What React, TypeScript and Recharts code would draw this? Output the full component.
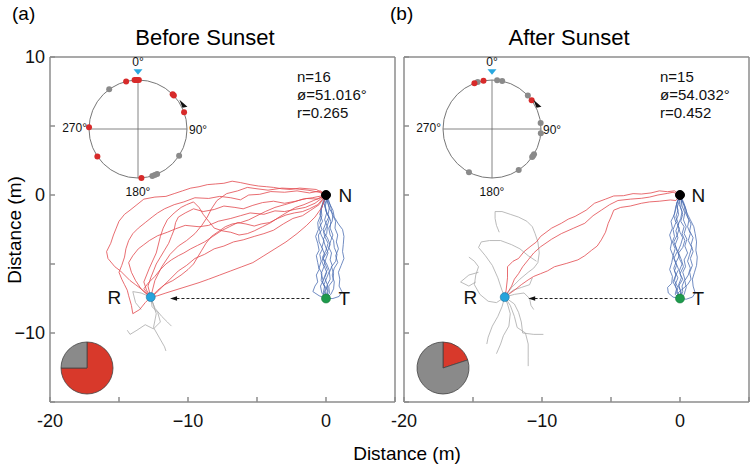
import React from 'react';
import { ScatterChart, Scatter, XAxis, YAxis, ReferenceLine, ReferenceDot, PieChart, Pie, Cell } from 'recharts';

const FONT = '"Liberation Sans", Arial, Helvetica, sans-serif';
const RED = '#e2474c';
const BLUE = '#4d6fb3';
const GRAY_TRACK = '#a9a9a9';
const AXIS = '#8c8c8c';

type Pair = [number, number];

// ---------- axes ----------
const xTicks = [-20, -15, -10, -5, 0, 5];
const xTickLabels = ['-20', '', '−10', '', '0', ''];
const yTicks = [-15, -10, -5, 0, 5, 10];
const yTickLabelsA = ['', '−10', '', '0', '', '10'];
const yTickLabelsB = ['', '', '', '', '', ''];

// ---------- key points ----------
const nestPoint: Pair = [0, 0];
const startPoint: Pair = [0, -7.5];
const releasePoint: Pair = [-12.7, -7.4];
const arrowA: Pair[] = [[-1.2, -7.5], [-11.0, -7.5]];
const arrowB: Pair[] = [[-0.9, -7.5], [-10.7, -7.5]];

// ---------- panel (a) tracks : Before Sunset ----------
const redA1: Pair[] = [[0,0],[-0.7,0.4],[-1.3,0.45],[-1.9,0.5],[-2.6,0.4],[-3.2,0.45],[-3.8,0.55],[-4.3,0.6],[-4.9,0.65],[-5.5,0.75],[-6.2,0.9],[-6.8,1.0],[-7.4,0.85],[-8.0,0.8],[-8.6,0.75],[-9.2,0.6],[-9.8,0.5],[-10.4,0.3],[-11.0,0.1],[-11.6,-0.1],[-12.4,-0.15],[-13.2,-0.3],[-13.7,-0.7],[-14.2,-1.1],[-14.6,-1.4],[-15.0,-1.9],[-15.2,-2.4],[-15.4,-2.9],[-15.6,-3.5],[-15.9,-4.1],[-15.8,-4.6],[-15.3,-5.2],[-14.9,-5.5],[-14.6,-5.8],[-14.2,-6.2],[-13.8,-6.5],[-13.4,-6.8],[-13.1,-7.1],[-12.7,-7.4]];
const redA2: Pair[] = [[0,0],[-0.4,0.3],[-1.2,0.15],[-2.1,0.3],[-3.0,0.2],[-4.0,0.25],[-4.8,0.05],[-5.6,0.0],[-6.2,-0.35],[-6.9,-0.2],[-7.7,-0.1],[-8.5,-0.25],[-9.5,-0.2],[-10.3,-0.5],[-11.0,-0.7],[-11.7,-1.0],[-12.2,-1.3],[-12.6,-1.6],[-13.1,-2.0],[-13.6,-2.4],[-14.0,-2.8],[-14.3,-3.3],[-14.5,-3.9],[-14.6,-4.5],[-14.8,-5.1],[-15.0,-5.6],[-14.8,-6.1],[-14.6,-6.5],[-14.4,-6.9],[-14.3,-7.3],[-14.1,-8.0],[-14.0,-8.6],[-13.5,-8.3],[-13.1,-7.8],[-12.7,-7.4]];
const redA3: Pair[] = [[0,0],[-0.6,-0.3],[-1.4,-0.25],[-2.2,-0.45],[-3.0,-0.6],[-3.8,-0.45],[-4.6,-0.55],[-5.3,-0.75],[-6.0,-1.0],[-6.6,-0.9],[-7.4,-0.8],[-8.1,-1.05],[-8.9,-1.2],[-9.6,-1.0],[-10.2,-1.3],[-10.7,-1.6],[-10.9,-2.0],[-11.0,-2.5],[-11.2,-3.0],[-11.4,-3.5],[-11.7,-4.0],[-12.0,-4.5],[-12.3,-5.0],[-12.5,-5.5],[-12.7,-6.0],[-12.9,-6.6],[-12.7,-7.4]];
const redA4: Pair[] = [[0,0],[-0.8,-0.6],[-1.5,-0.9],[-2.3,-1.05],[-3.0,-1.2],[-3.7,-1.15],[-4.5,-1.4],[-5.5,-1.3],[-6.2,-1.5],[-6.9,-1.7],[-7.8,-1.9],[-8.5,-2.2],[-9.2,-2.3],[-10.2,-2.2],[-10.9,-2.45],[-11.5,-2.7],[-12.2,-2.95],[-12.8,-3.3],[-13.2,-3.6],[-13.6,-3.9],[-14.0,-4.4],[-14.3,-4.9],[-14.1,-5.6],[-13.8,-6.2],[-13.4,-6.8],[-12.7,-7.4]];
const redA5: Pair[] = [[0,0],[-0.5,-0.7],[-1.1,-1.1],[-1.7,-1.5],[-2.4,-1.7],[-3.1,-2.1],[-3.8,-2.55],[-4.5,-2.8],[-5.2,-3.0],[-6.0,-3.25],[-6.7,-3.4],[-7.4,-3.7],[-8.1,-3.9],[-8.8,-4.3],[-9.5,-4.6],[-10.1,-5.1],[-10.7,-5.5],[-11.3,-6.1],[-11.9,-6.7],[-12.3,-7.1],[-12.7,-7.4]];
const redA6: Pair[] = [[0,0],[-0.3,-0.9],[-0.8,-1.6],[-1.4,-2.2],[-2.1,-2.8],[-2.9,-3.4],[-3.7,-3.9],[-4.5,-4.4],[-5.3,-4.9],[-6.1,-5.2],[-6.9,-5.5],[-7.7,-5.8],[-8.5,-6.1],[-9.2,-6.35],[-10.0,-6.6],[-10.8,-6.85],[-11.6,-7.1],[-12.2,-7.3],[-12.7,-7.4]];
const redA7: Pair[] = [[0,0],[-0.9,-0.4],[-1.6,-0.7],[-2.2,-0.9],[-2.9,-1.3],[-3.4,-1.6],[-4.0,-2.0],[-4.6,-2.3],[-5.2,-2.6],[-5.7,-2.8],[-6.3,-2.9],[-6.9,-2.7],[-7.5,-2.6],[-8.1,-2.4],[-8.5,-1.9],[-8.9,-1.4],[-9.2,-0.9],[-9.6,-0.5],[-10.1,-0.7],[-10.5,-0.9],[-11.0,-1.3],[-11.5,-1.8],[-11.8,-2.4],[-12.0,-3.0],[-12.3,-4.2],[-12.8,-5.3],[-13.2,-6.3],[-13.0,-6.9],[-12.7,-7.4]];
const redA8: Pair[] = [[0,0],[-0.6,-0.7],[-1.2,-1.0],[-1.7,-1.2],[-2.3,-1.3],[-2.9,-1.45],[-3.5,-1.7],[-4.1,-2.0],[-4.7,-2.1],[-5.2,-2.25],[-5.8,-2.1],[-6.4,-2.0],[-7.0,-2.3],[-7.6,-2.6],[-8.2,-3.0],[-8.8,-3.4],[-9.3,-3.65],[-9.8,-3.9],[-10.3,-4.2],[-10.7,-4.4],[-11.2,-4.7],[-11.6,-5.0],[-12.0,-5.4],[-12.4,-5.9],[-12.9,-6.4],[-13.2,-6.8],[-12.7,-7.4]];
const redA9: Pair[] = [[0,0],[-1.0,-0.2],[-1.7,-0.3],[-2.3,-0.5],[-3.0,-0.7],[-3.7,-0.9],[-4.4,-1.2],[-5.0,-1.5],[-5.6,-1.8],[-6.2,-2.0],[-6.8,-2.1],[-7.3,-2.3],[-7.8,-2.65],[-8.3,-3.0],[-8.7,-3.5],[-9.0,-4.0],[-9.3,-4.5],[-9.6,-5.0],[-10.0,-5.4],[-10.5,-5.8],[-11.1,-6.2],[-11.7,-6.5],[-12.2,-6.9],[-12.7,-7.4]];
const redA10: Pair[] = [[0,0],[-0.5,0.2],[-1.3,0.35],[-2.2,0.45],[-3.2,0.5],[-4.2,0.35],[-5.0,0.45],[-5.7,0.55],[-6.4,0.3],[-7.2,0.1],[-7.9,-0.4],[-8.3,-1.0],[-8.6,-1.6],[-9.0,-2.2],[-9.5,-2.8],[-10.1,-3.3],[-10.7,-3.7],[-11.3,-4.3],[-11.9,-5.2],[-12.4,-6.2],[-12.7,-7.4]];

const blueA1: Pair[] = [[0,-7.5],[-0.2,-7.1],[-0.1,-6.6],[-0.35,-6.2],[-0.3,-5.7],[-0.5,-5.3],[-0.35,-4.8],[-0.45,-4.3],[-0.25,-3.9],[-0.5,-3.4],[-0.55,-2.9],[-0.3,-2.5],[-0.45,-2.0],[-0.3,-1.5],[-0.35,-1.0],[-0.15,-0.5],[0,0]];
const blueA2: Pair[] = [[0,-7.5],[0.15,-7.0],[0.1,-6.5],[0.3,-6.1],[0.25,-5.6],[0.45,-5.1],[0.3,-4.7],[0.4,-4.2],[0.2,-3.8],[0.35,-3.3],[0.5,-2.9],[0.3,-2.4],[0.35,-1.9],[0.15,-1.4],[0.25,-0.9],[0.1,-0.4],[0,0]];
const blueA3: Pair[] = [[0,-7.5],[-0.5,-7.3],[-0.95,-7.0],[-0.8,-6.6],[-0.6,-6.3],[-0.7,-5.8],[-0.5,-5.4],[-0.6,-4.9],[-0.7,-4.4],[-0.5,-4.0],[-0.6,-3.5],[-0.75,-3.0],[-0.55,-2.5],[-0.6,-2.0],[-0.4,-1.5],[-0.35,-0.9],[-0.1,-0.3],[0,0]];
const blueA4: Pair[] = [[0,-7.5],[0.5,-7.5],[0.95,-7.35],[1.15,-7.0],[0.95,-6.6],[1.0,-6.1],[0.9,-5.6],[1.1,-5.1],[1.3,-4.6],[1.2,-4.1],[1.25,-3.6],[1.3,-3.0],[1.2,-2.5],[0.9,-2.1],[0.6,-1.6],[0.5,-1.1],[0.2,-0.5],[0,0]];
const blueA5: Pair[] = [[0,-7.5],[-0.05,-7.0],[0.1,-6.5],[-0.1,-6.0],[0.05,-5.6],[-0.15,-5.1],[0.0,-4.6],[0.15,-4.2],[-0.05,-3.7],[-0.2,-3.2],[0.05,-2.8],[0.1,-2.3],[-0.1,-1.8],[0.05,-1.3],[-0.05,-0.8],[0.05,-0.4],[0,0]];
const blueA6: Pair[] = [[0,-7.5],[0.25,-7.1],[0.2,-6.6],[0.5,-6.2],[0.55,-5.7],[0.4,-5.2],[0.7,-4.8],[0.8,-4.3],[0.6,-3.8],[0.55,-3.3],[0.3,-2.9],[0.2,-2.4],[0.45,-1.9],[0.5,-1.4],[0.25,-1.0],[0.1,-0.5],[0,0]];
const blueA7: Pair[] = [[0,-7.5],[-0.3,-7.1],[-0.4,-6.6],[-0.2,-6.2],[-0.35,-5.7],[-0.15,-5.2],[-0.3,-4.8],[-0.1,-4.3],[-0.3,-3.8],[-0.15,-3.3],[-0.35,-2.9],[-0.5,-2.4],[-0.25,-1.9],[-0.45,-1.4],[-0.3,-0.9],[-0.2,-0.4],[0,0]];
const blueA8: Pair[] = [[0,-7.5],[0.1,-6.9],[-0.15,-6.5],[0.05,-6.0],[0.25,-5.5],[0.05,-5.0],[-0.2,-4.6],[0.1,-4.1],[0.3,-3.6],[0.1,-3.1],[-0.15,-2.7],[0.1,-2.2],[0.25,-1.7],[0.0,-1.2],[-0.1,-0.7],[0.05,-0.3],[0,0]];
const blueA9: Pair[] = [[0,-7.5],[0.35,-7.2],[0.55,-6.8],[0.6,-6.3],[0.45,-5.8],[0.6,-5.3],[0.85,-4.9],[0.7,-4.4],[0.9,-3.9],[0.75,-3.4],[0.85,-2.9],[0.65,-2.4],[0.7,-1.9],[0.45,-1.4],[0.35,-0.9],[0.2,-0.4],[0,0]];
const blueA10: Pair[] = [[0,-7.5],[-0.15,-7.2],[-0.05,-6.8],[-0.25,-6.3],[-0.1,-5.9],[0.1,-5.4],[-0.1,-4.9],[-0.25,-4.5],[0.0,-4.0],[0.15,-3.5],[-0.1,-3.0],[-0.2,-2.5],[0.0,-2.0],[0.2,-1.6],[0.0,-1.1],[-0.15,-0.6],[0,0]];

const grayA1: Pair[] = [[-12.7,-7.4],[-12.6,-8.1],[-12.2,-8.5],[-12.0,-9.2],[-12.5,-9.7],[-13.1,-9.4],[-13.7,-9.8],[-14.2,-10.1],[-14.4,-9.8]];
const grayA2: Pair[] = [[-12.7,-7.4],[-12.4,-8.2],[-11.9,-8.8],[-11.5,-9.2],[-11.2,-9.5]];
const grayA3: Pair[] = [[-12.7,-7.4],[-12.3,-8.6],[-12.5,-9.6],[-12.1,-10.3],[-11.7,-11.0],[-11.6,-11.3]];
const grayA4: Pair[] = [[-12.7,-7.4],[-13.4,-7.1],[-14.0,-7.0],[-13.8,-7.8],[-13.4,-8.3]];

// ---------- panel (b) tracks : After Sunset ----------
const redB1: Pair[] = [[0,0],[-0.4,0.3],[-0.9,0.24],[-1.5,0.3],[-2.1,0.15],[-2.8,0.07],[-3.4,0.1],[-4.1,-0.05],[-4.8,-0.07],[-5.4,-0.3],[-6.2,-0.6],[-6.8,-1.1],[-7.6,-1.55],[-8.1,-1.75],[-8.6,-2.05],[-9.3,-2.4],[-10.1,-3.0],[-10.4,-3.4],[-10.8,-3.7],[-11.3,-4.1],[-11.7,-4.6],[-12.1,-4.8],[-12.5,-5.2],[-12.5,-6.0],[-12.6,-6.9],[-12.7,-7.4]];
const redB2: Pair[] = [[0,0],[-0.5,0.2],[-0.9,0.12],[-1.6,0.0],[-2.2,-0.15],[-2.8,-0.24],[-3.6,-0.3],[-4.5,-0.4],[-5.1,-0.7],[-5.7,-1.1],[-6.3,-1.5],[-6.9,-2.05],[-7.7,-2.4],[-8.6,-2.8],[-9.3,-3.2],[-10.1,-3.75],[-10.6,-4.2],[-11.0,-4.7],[-11.4,-5.2],[-11.7,-5.7],[-12.0,-6.1],[-12.2,-6.6],[-12.7,-7.4]];
const redB3: Pair[] = [[0,0],[-0.3,-0.4],[-0.7,-0.36],[-1.5,-0.45],[-2.2,-0.5],[-2.8,-0.6],[-3.6,-0.8],[-4.3,-0.9],[-4.8,-1.1],[-5.0,-1.6],[-5.2,-2.05],[-5.4,-2.7],[-5.7,-3.25],[-6.0,-3.7],[-6.4,-4.0],[-6.9,-4.4],[-7.4,-4.7],[-8.2,-4.95],[-9.1,-5.2],[-9.6,-5.5],[-10.1,-5.7],[-10.6,-5.9],[-11.0,-6.15],[-11.5,-6.5],[-12.0,-6.9],[-12.7,-7.4]];

const blueB1: Pair[] = [[0,-7.5],[-0.25,-7.1],[-0.15,-6.7],[-0.4,-6.2],[-0.3,-5.8],[-0.45,-5.3],[-0.3,-4.9],[-0.5,-4.4],[-0.35,-3.9],[-0.55,-3.4],[-0.4,-3.0],[-0.5,-2.5],[-0.3,-2.0],[-0.45,-1.5],[-0.3,-1.0],[-0.2,-0.5],[0,0]];
const blueB2: Pair[] = [[0,-7.5],[0.2,-7.0],[0.15,-6.6],[0.35,-6.1],[0.2,-5.6],[0.4,-5.2],[0.3,-4.7],[0.55,-4.2],[0.35,-3.7],[0.5,-3.2],[0.3,-2.8],[0.45,-2.3],[0.25,-1.8],[0.35,-1.3],[0.15,-0.8],[0.1,-0.4],[0,0]];
const blueB3: Pair[] = [[0,-7.5],[-0.5,-7.4],[-0.85,-7.1],[-0.9,-6.7],[-0.6,-6.4],[-0.55,-5.9],[-0.75,-5.4],[-0.6,-4.9],[-0.5,-4.4],[-0.7,-3.9],[-0.6,-3.4],[-0.75,-2.9],[-0.55,-2.4],[-0.65,-1.9],[-0.4,-1.4],[-0.3,-0.8],[-0.1,-0.3],[0,0]];
const blueB4: Pair[] = [[0,-7.5],[0.45,-7.55],[0.9,-7.4],[1.1,-7.1],[0.95,-6.6],[0.9,-6.1],[1.05,-5.6],[1.2,-5.1],[1.25,-4.5],[1.15,-4.0],[1.2,-3.4],[1.1,-2.8],[1.0,-2.3],[0.75,-1.8],[0.5,-1.3],[0.35,-0.8],[0.1,-0.3],[0,0]];
const blueB5: Pair[] = [[0,-7.5],[0.05,-7.0],[-0.1,-6.5],[0.1,-6.0],[-0.05,-5.5],[0.15,-5.0],[-0.05,-4.6],[-0.15,-4.1],[0.05,-3.6],[0.2,-3.1],[0.0,-2.7],[-0.15,-2.2],[0.05,-1.7],[0.15,-1.2],[-0.05,-0.7],[0.0,-0.3],[0,0]];
const blueB6: Pair[] = [[0,-7.5],[0.3,-7.2],[0.45,-6.7],[0.35,-6.2],[0.6,-5.8],[0.75,-5.3],[0.55,-4.8],[0.7,-4.3],[0.85,-3.8],[0.6,-3.3],[0.75,-2.8],[0.55,-2.3],[0.65,-1.8],[0.4,-1.3],[0.3,-0.8],[0.15,-0.4],[0,0]];
const blueB7: Pair[] = [[0,-7.5],[-0.2,-7.0],[-0.35,-6.5],[-0.15,-6.0],[-0.4,-5.5],[-0.25,-5.1],[-0.45,-4.6],[-0.2,-4.1],[-0.35,-3.6],[-0.15,-3.1],[-0.3,-2.6],[-0.1,-2.1],[-0.3,-1.6],[-0.15,-1.1],[-0.25,-0.6],[-0.05,-0.2],[0,0]];
const blueB8: Pair[] = [[0,-7.5],[0.1,-7.1],[-0.1,-6.6],[0.2,-6.1],[0.0,-5.7],[0.25,-5.2],[0.1,-4.7],[-0.1,-4.2],[0.2,-3.8],[0.35,-3.3],[0.15,-2.8],[0.3,-2.3],[0.05,-1.9],[0.2,-1.4],[0.05,-0.9],[0.1,-0.4],[0,0]];
const blueB9: Pair[] = [[0,-7.5],[-0.15,-7.1],[0.2,-6.8],[0.55,-6.5],[0.8,-6.1],[0.7,-5.6],[0.9,-5.1],[0.75,-4.6],[0.95,-4.1],[0.8,-3.6],[0.95,-3.1],[0.7,-2.6],[0.8,-2.1],[0.55,-1.6],[0.45,-1.1],[0.25,-0.5],[0,0]];
const blueB10: Pair[] = [[0,-7.5],[-0.35,-7.2],[-0.25,-6.8],[-0.5,-6.3],[-0.35,-5.9],[-0.1,-5.4],[-0.3,-4.9],[-0.05,-4.4],[-0.25,-3.9],[-0.45,-3.4],[-0.2,-2.9],[-0.05,-2.4],[-0.3,-1.9],[-0.1,-1.4],[-0.2,-0.9],[-0.05,-0.4],[0,0]];

const grayB1: Pair[] = [[-12.7,-7.4],[-12.2,-6.7],[-11.6,-6.1],[-11.0,-5.6],[-10.6,-5.3],[-10.3,-4.9],[-10.2,-4.2],[-10.3,-3.4],[-10.5,-2.8],[-10.7,-2.3],[-11.1,-1.9],[-11.7,-1.6],[-12.3,-1.4],[-12.9,-1.2],[-13.4,-1.2],[-13.4,-1.7],[-13.3,-2.2],[-13.1,-2.7]];
const grayB2: Pair[] = [[-12.7,-7.4],[-13.3,-7.8],[-13.9,-7.7],[-14.5,-7.2],[-14.9,-6.5],[-14.8,-5.8],[-14.6,-5.2],[-14.9,-4.8],[-15.3,-4.5]];
const grayB3: Pair[] = [[-12.7,-7.4],[-12.9,-6.9],[-13.2,-6.0],[-13.6,-5.1],[-14.1,-4.4],[-14.6,-3.8],[-14.4,-3.4],[-13.8,-3.3],[-13.0,-3.3],[-12.2,-3.6],[-11.6,-3.9],[-11.0,-4.4],[-10.4,-4.8]];
const grayB4: Pair[] = [[-14.6,-5.6],[-15.3,-5.8],[-15.9,-6.3],[-15.3,-6.6],[-14.8,-6.3]];
const grayB5: Pair[] = [[-12.7,-7.4],[-12.5,-7.9],[-12.3,-8.6],[-12.4,-9.5],[-12.8,-10.2],[-13.0,-10.8],[-13.3,-11.5]];
const grayB6: Pair[] = [[-12.7,-7.4],[-12.3,-8.0],[-12.0,-8.8],[-11.8,-9.6],[-11.2,-10.0],[-11.0,-10.8],[-11.0,-11.8],[-11.0,-12.4]];
const grayB7: Pair[] = [[-12.7,-7.4],[-12.0,-7.9],[-11.7,-8.5],[-11.5,-9.2],[-11.4,-10.0],[-10.6,-10.1],[-9.9,-10.1]];
const grayB8: Pair[] = [[-12.7,-7.4],[-12.0,-7.2],[-11.3,-7.1],[-10.9,-7.5],[-10.8,-8.0],[-10.6,-8.3]];
const grayB9: Pair[] = [[-12.7,-7.4],[-12.1,-6.9],[-11.5,-6.7],[-10.9,-6.5],[-10.7,-6.0]];
const grayB10: Pair[] = [[-12.7,-7.4],[-12.9,-8.1],[-13.2,-8.8],[-13.6,-9.5],[-13.9,-10.3],[-14.0,-10.8]];

const redTracksA = [redA1, redA2, redA3, redA4, redA5, redA6, redA7, redA8, redA9, redA10];
const blueTracksA = [blueA1, blueA2, blueA3, blueA4, blueA5, blueA6, blueA7, blueA8, blueA9, blueA10];
const grayTracksA = [grayA1, grayA2, grayA3, grayA4];
const redTracksB = [redB1, redB2, redB3];
const blueTracksB = [blueB1, blueB2, blueB3, blueB4, blueB5, blueB6, blueB7, blueB8, blueB9, blueB10];
const grayTracksB = [grayB1, grayB2, grayB3, grayB4, grayB5, grayB6, grayB7, grayB8, grayB9, grayB10];

// ---------- circular statistics (degrees) ----------
const circleRedA = [346, 356, 358, 359, 1, 45, 47, 70, 272, 236, 176];
const circleGrayA = [324, 123, 157, 160, 163];
const circleRedB = [339, 350, 54];
const circleGrayB = [343, 6, 12, 47, 83, 95, 121, 123, 125, 147, 208];
const meanArrowAngleA = 62;
const meanArrowAngleB = 62;
const statsA = ['n=16', 'ø=51.016°', 'r=0.265'];
const statsB = ['n=15', 'ø=54.032°', 'r=0.452'];

// ---------- pies ----------
const pieA = [{ name: 'homing', value: 12 }, { name: 'other', value: 4 }];
const pieB = [{ name: 'homing', value: 3 }, { name: 'other', value: 12 }];
const PIE_COLORS = ['#d8392b', '#8a8a8a'];

const toPts = (t: Pair[]) => t.map(([x, y]) => ({ x, y }));
const polar = (deg: number, r = 1) => ({ x: r * Math.sin((deg * Math.PI) / 180), y: r * Math.cos((deg * Math.PI) / 180) });

const Empty = () => <g />;
const LeftHead = (p: any) => (
  <polygon points={`${p.cx},${p.cy} ${p.cx + 7},${p.cy - 2.3} ${p.cx + 7},${p.cy + 2.3}`} fill="#111" />
);
const makeDot = (fill: string) => (p: any) => <circle cx={p.cx} cy={p.cy} r={3} fill={fill} />;
const CyanTri = (p: any) => (
  <polygon points={`${p.cx - 4.5},${p.cy - 3} ${p.cx + 4.5},${p.cy - 3} ${p.cx},${p.cy + 2.5}`} fill="#29a8df" />
);
const MeanHead = (p: any) => (
  <polygon points={`${p.cx - 4},${p.cy - 5} ${p.cx + 4},${p.cy + 2} ${p.cx - 1},${p.cy + 3}`} fill="#111" />
);

function TrackPanel(props: {
  width: number; right: number; red: Pair[][]; blue: Pair[][]; gray: Pair[][];
  arrow: Pair[]; yLabels: string[]; rOffset: number; nOffset: number; tOffset: number;
}) {
  const { width, right, red, blue, gray, arrow, yLabels, rOffset, nOffset, tOffset } = props;
  const tickStyle = { fill: '#111', fontSize: 18, fontFamily: FONT };
  const lbl = (value: string, position: any, offset: number) => ({ value, position, offset, fill: '#111', fontSize: 19, fontFamily: FONT });
  return (
    <ScatterChart width={width} height={469} margin={{ top: 57, right, left: 0, bottom: 37 }}>
      <XAxis type="number" dataKey="x" domain={[-20, 5]} ticks={xTicks} interval={0} allowDataOverflow
        tickFormatter={(v: number) => xTickLabels[xTicks.indexOf(v)] ?? ''}
        tickSize={-5} tickMargin={17} height={30} stroke={AXIS} strokeWidth={1.5} tick={tickStyle} />
      <YAxis type="number" dataKey="y" domain={[-15, 10]} ticks={yTicks} interval={0} allowDataOverflow
        tickFormatter={(v: number) => yLabels[yTicks.indexOf(v)] ?? ''}
        tickSize={-5} tickMargin={10} width={50} stroke={AXIS} strokeWidth={1.5} tick={tickStyle} />
      <ReferenceLine y={10} stroke={AXIS} strokeWidth={1.5} />
      <ReferenceLine x={5} stroke={AXIS} strokeWidth={1.5} />
      {gray.map((t, i) => (
        <Scatter key={'g' + i} data={toPts(t)} line={{ stroke: GRAY_TRACK, strokeWidth: 0.8 }} shape={Empty} isAnimationActive={false} />
      ))}
      {blue.map((t, i) => (
        <Scatter key={'b' + i} data={toPts(t)} line={{ stroke: BLUE, strokeWidth: 0.8 }} shape={Empty} isAnimationActive={false} />
      ))}
      {red.map((t, i) => (
        <Scatter key={'r' + i} data={toPts(t)} line={{ stroke: RED, strokeWidth: 0.8 }} shape={Empty} isAnimationActive={false} />
      ))}
      <ReferenceLine segment={[{ x: arrow[0][0], y: arrow[0][1] }, { x: arrow[1][0], y: arrow[1][1] }]} stroke="#222" strokeWidth={1} strokeDasharray="3 2" />
      <Scatter data={[{ x: arrow[1][0] - 0.3, y: arrow[1][1] }]} shape={LeftHead} isAnimationActive={false} />
      <ReferenceDot x={nestPoint[0]} y={nestPoint[1]} r={4.5} fill="#000" stroke="#000" label={lbl('N', 'right', nOffset)} />
      <ReferenceDot x={startPoint[0]} y={startPoint[1]} r={4.5} fill="#1d9a4c" stroke="#157a3a" strokeWidth={0.6} label={lbl('T', 'right', tOffset)} />
      <ReferenceDot x={releasePoint[0]} y={releasePoint[1]} r={4.5} fill="#25a4dc" stroke="#1b6f9e" strokeWidth={0.6} label={lbl('R', 'left', rOffset)} />
    </ScatterChart>
  );
}

function CirclePlot(props: { red: number[]; gray: number[]; arrowAngle: number }) {
  const { red, gray, arrowAngle } = props;
  return (
    <ScatterChart width={150} height={150} margin={{ top: 0, right: 0, bottom: 0, left: 0 }}>
      <XAxis type="number" dataKey="x" domain={[-1.53, 1.53]} hide allowDataOverflow />
      <YAxis type="number" dataKey="y" domain={[-1.53, 1.53]} hide allowDataOverflow />
      <ReferenceDot x={0} y={0} r={49} fill="none" stroke="#777" strokeWidth={1} />
      <ReferenceLine segment={[{ x: -1, y: 0 }, { x: 1, y: 0 }]} stroke="#666" strokeWidth={0.8} />
      <ReferenceLine segment={[{ x: 0, y: -1 }, { x: 0, y: 1 }]} stroke="#666" strokeWidth={0.8} />
      <Scatter data={gray.map((a) => polar(a))} shape={makeDot('#8a8a8a')} isAnimationActive={false} />
      <Scatter data={red.map((a) => polar(a))} shape={makeDot('#d72a2a')} isAnimationActive={false} />
      <Scatter data={[polar(0, 1.16)]} shape={CyanTri} isAnimationActive={false} />
      <Scatter data={[polar(arrowAngle, 1.05)]} shape={MeanHead} isAnimationActive={false} />
    </ScatterChart>
  );
}

function MiniPie(props: { data: { name: string; value: number }[] }) {
  return (
    <PieChart width={60} height={60} margin={{ top: 0, right: 0, bottom: 0, left: 0 }}>
      <Pie data={props.data} dataKey="value" cx="50%" cy="50%" outerRadius={26} startAngle={90} endAngle={-270}
        stroke="#444" strokeWidth={0.8} isAnimationActive={false}>
        {props.data.map((d, i) => <Cell key={d.name} fill={PIE_COLORS[i]} />)}
      </Pie>
    </PieChart>
  );
}

const abs = (left: number, top: number, extra: React.CSSProperties = {}): React.CSSProperties => ({
  position: 'absolute', left, top, lineHeight: 1, whiteSpace: 'nowrap', ...extra,
});

function DegreeLabels({ cx, cy }: { cx: number; cy: number }) {
  const s = { fontSize: 12, color: '#111' };
  return (
    <>
      <div style={abs(cx, cy - 67, { ...s, transform: 'translate(-50%,-50%)' })}>0°</div>
      <div style={abs(cx + 51, cy + 1, { ...s, transform: 'translate(0,-50%)' })}>90°</div>
      <div style={abs(cx, cy + 63, { ...s, transform: 'translate(-50%,-50%)' })}>180°</div>
      <div style={abs(cx - 51, cy - 1, { ...s, transform: 'translate(-100%,-50%)' })}>270°</div>
    </>
  );
}

function Stats({ left, lines }: { left: number; lines: string[] }) {
  return (
    <div style={abs(left, 68, { fontSize: 15, lineHeight: '18px', color: '#111' })}>
      {lines.map((l) => <div key={l}>{l}</div>)}
    </div>
  );
}

export default function App() {
  return (
    <div style={{ position: 'absolute', left: 0, top: 0, width: 755, height: 469, background: '#fff', fontFamily: FONT, overflow: 'hidden' }}>
      <div style={abs(0, 0)}>
        <TrackPanel width={400} right={5} red={redTracksA} blue={blueTracksA} gray={grayTracksA} arrow={arrowA}
          yLabels={yTickLabelsA} rOffset={25} nOffset={8} tOffset={8} />
      </div>
      <div style={abs(354, 0)}>
        <TrackPanel width={401} right={6} red={redTracksB} blue={blueTracksB} gray={grayTracksB} arrow={arrowB}
          yLabels={yTickLabelsB} rOffset={23} nOffset={7} tOffset={8} />
      </div>

      <div style={abs(63, 54)}><CirclePlot red={circleRedA} gray={circleGrayA} arrowAngle={meanArrowAngleA} /></div>
      <div style={abs(417, 54)}><CirclePlot red={circleRedB} gray={circleGrayB} arrowAngle={meanArrowAngleB} /></div>
      <DegreeLabels cx={138} cy={129} />
      <DegreeLabels cx={492} cy={129} />

      <div style={abs(57, 338)}><MiniPie data={pieA} /></div>
      <div style={abs(413, 338)}><MiniPie data={pieB} /></div>

      <Stats left={297} lines={statsA} />
      <Stats left={660} lines={statsB} />

      <div style={abs(205, 38, { fontSize: 22, transform: 'translate(-50%,-50%)' })}>Before Sunset</div>
      <div style={abs(569, 38, { fontSize: 22, transform: 'translate(-50%,-50%)' })}>After Sunset</div>
      <div style={abs(12, 4, { fontSize: 19 })}>(a)</div>
      <div style={abs(390, 4, { fontSize: 19 })}>(b)</div>
      <div style={abs(407, 453, { fontSize: 19, transform: 'translate(-50%,-50%)' })}>Distance (m)</div>
      <div style={abs(14, 230, { fontSize: 19, transform: 'translate(-50%,-50%) rotate(-90deg)' })}>Distance (m)</div>
    </div>
  );
}
